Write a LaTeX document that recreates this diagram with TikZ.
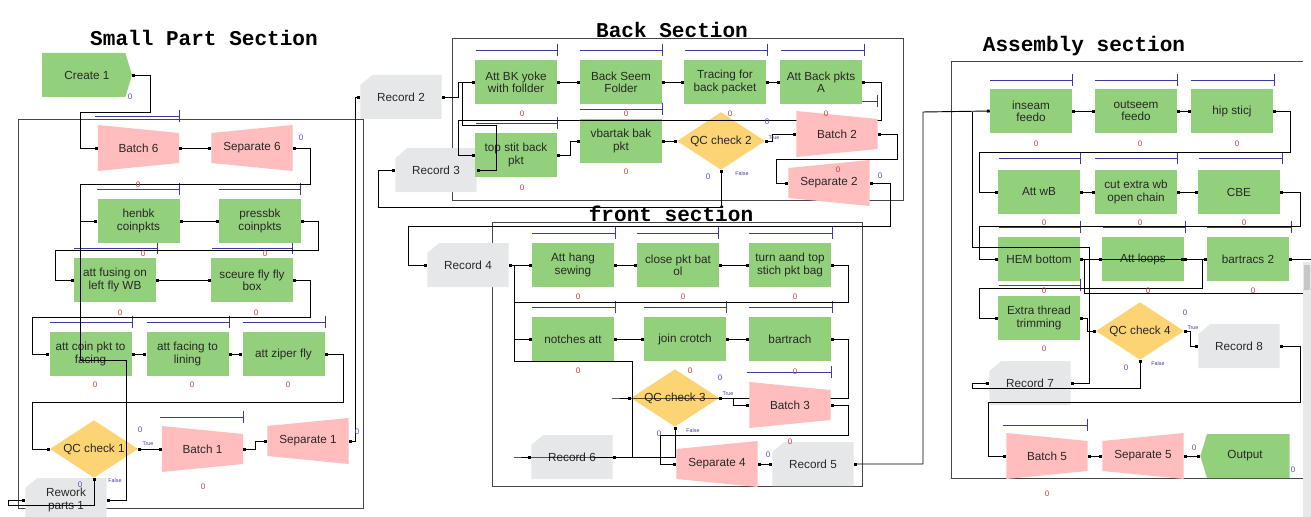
\documentclass[tikz,border=0pt]{standalone}
\usepackage{fontspec}
\setmainfont{Liberation Sans}
\newfontfamily\ttlfont{Liberation Mono}
\usetikzlibrary{arrows.meta}

\definecolor{procgreen}{RGB}{147,208,123}
\definecolor{batchpink}{RGB}{255,189,189}
\definecolor{qcgold}{RGB}{252,212,115}
\definecolor{recgray}{RGB}{230,231,232}
\definecolor{qblue}{RGB}{58,58,160}
\definecolor{zred}{RGB}{205,60,60}
\definecolor{zblue}{RGB}{80,80,205}
\definecolor{boxtext}{RGB}{40,40,40}
\definecolor{framegray}{RGB}{70,70,70}
\definecolor{scrollgray}{RGB}{232,232,232}

\newcommand\boxfont{\fontsize{8.8}{9.2}\selectfont}
\newcommand\zfont{\fontsize{6}{6}\selectfont}
\newcommand\tffont{\fontsize{4}{4}\selectfont}

\begin{document}
\begin{tikzpicture}[x=0.75pt,y=-0.75pt,
  proc/.style={rectangle,fill=procgreen,minimum width=61.5pt,minimum height=33.5pt,
    inner sep=0pt,align=center,font=\boxfont,text=boxtext},
  batch/.style={rectangle,minimum width=61pt,minimum height=34.5pt,inner sep=0pt,
    align=center,font=\boxfont,text=boxtext,
    path picture={\fill[batchpink] (path picture bounding box.north west)
      -- ([yshift=-6pt]path picture bounding box.north east)
      -- ([yshift=6pt]path picture bounding box.south east)
      -- (path picture bounding box.south west) -- cycle;}},
  sep/.style={rectangle,minimum width=61pt,minimum height=34.5pt,inner sep=0pt,
    align=center,font=\boxfont,text=boxtext,
    path picture={\fill[batchpink] ([yshift=-6pt]path picture bounding box.north west)
      -- (path picture bounding box.north east)
      -- (path picture bounding box.south east)
      -- ([yshift=6pt]path picture bounding box.south west) -- cycle;}},
  record/.style={rectangle,minimum width=61pt,minimum height=33pt,inner sep=0pt,
    align=center,font=\boxfont,text=boxtext,
    path picture={\fill[recgray] ([yshift=-7.5pt]path picture bounding box.north west)
      -- ([xshift=9pt]path picture bounding box.north west)
      -- (path picture bounding box.north east)
      -- (path picture bounding box.south east)
      -- (path picture bounding box.south west) -- cycle;}},
  create/.style={rectangle,minimum width=67.5pt,minimum height=33pt,inner sep=0pt,
    align=center,font=\boxfont,text=boxtext,
    path picture={\fill[procgreen] (path picture bounding box.north west)
      -- ([xshift=-5pt]path picture bounding box.north east)
      -- (path picture bounding box.east)
      -- ([xshift=-5pt]path picture bounding box.south east)
      -- (path picture bounding box.south west) -- cycle;}},
  dispose/.style={rectangle,minimum width=67pt,minimum height=33pt,inner sep=0pt,
    align=center,font=\boxfont,text=boxtext,
    path picture={\fill[procgreen] ([xshift=5pt]path picture bounding box.north west)
      -- (path picture bounding box.north east)
      -- (path picture bounding box.south east)
      -- ([xshift=5pt]path picture bounding box.south west)
      -- (path picture bounding box.west) -- cycle;}},
  decide/.style={rectangle,minimum width=66pt,minimum height=43pt,inner sep=0pt,
    align=center,font=\boxfont,text=boxtext,
    path picture={\fill[qcgold] (path picture bounding box.north)
      -- (path picture bounding box.east)
      -- (path picture bounding box.south)
      -- (path picture bounding box.west) -- cycle;}},
  conn/.style={draw=black,line width=0.7pt,
    {Square[length=2.2pt,width=2.2pt]}-{Square[length=2.2pt,width=2.2pt]}},
  merge/.style={draw=black,line width=0.7pt,{Square[length=2.2pt,width=2.2pt]}-},
  queue/.style={draw=qblue,line width=0.7pt,-{Bar[width=9.5pt,line width=0.7pt]}},
  frame/.style={draw=framegray,line width=0.7pt},
  ttl/.style={inner sep=0pt,font={\ttlfont\bfseries\fontsize{15.8}{16}\selectfont}},
  zr/.style={inner sep=0pt,text=zred,font=\zfont},
  zb/.style={inner sep=0pt,text=zblue,font=\zfont},
  tf/.style={inner sep=0pt,text=zblue!70!black,font=\tffont}]
\useasboundingbox (0,0) rectangle (1311,517);

% frames of the four sections
\draw[frame] (18,119) rectangle (363,508);
\draw[frame] (452,38) rectangle (903,200);
\draw[frame] (492,222) rectangle (862,486);
\draw[frame] (1303,61) -- (951,61) -- (951,478) -- (1303,478);

% titles
\node[ttl] (tsmall) at (204,38) {Small Part Section};
\node[ttl] (tback) at (672,30) {Back Section};
\node[ttl] (tfront) at (671,214) {front section};
\node[ttl] (tassy) at (1084,46) {Assembly section};

% queues
\foreach \xa/\xb/\yq in {95/180/116, 97/180/189, 219/301/189, 74/158/248, 212/293/248,
    50/133/322, 147/230/322, 243/326/322, 160/244/417,
    476/558/50, 580/663/50, 685/768/50, 781/865/50, 794/878/101, 580/663/109, 476/558/123,
    532/616/233, 637/719/233, 749/833/233, 532/616/307, 644/727/307, 749/833/307, 747/832/372,
    990/1073/80, 1095/1178/80, 1191/1275/80, 999/1081/158, 1095/1178/158, 1199/1283/158,
    999/1081/227, 1103/1186/227, 1207/1292/227, 999/1081/285, 1003/1088/425}
  \draw[queue] (\xa,\yq) -- (\xb,\yq);

% small part section
\node[create] (cr1) at (87,75) {Create 1};
\node[batch] (b6) at (138.5,148) {Batch 6};
\node[sep] (s6) at (252,148) {Separate 6};
\node[proc] (hb) at (138.5,221) {henbk\\coinpkts};
\node[proc] (pb) at (260,221) {pressbk\\coinpkts};
\node[proc] (fus) at (115,280) {att fusing on\\left fly WB};
\node[proc] (sfb) at (252,280) {sceure fly fly\\box};
\node[proc] (cpk) at (90.5,354) {att coin pkt to\\facing};
\node[proc] (fcl) at (187.5,354) {att facing to\\lining};
\node[proc] (zip) at (283.5,354) {att ziper fly};
\node[decide] (qc1) at (94,449) {QC check 1};
\node[batch] (b1) at (202.5,449) {Batch 1};
\node[sep] (s1) at (308,441) {Separate 1};
\node[record] (rw1) at (66,500) {Rework\\parts 1};

% back section
\node[record] (r2) at (401,97) {Record 2};
\node[proc] (bk1) at (516,82) {Att BK yoke\\with follder};
\node[proc] (bk2) at (621,82) {Back Seem\\Folder};
\node[proc] (bk3) at (725,82) {Tracing for\\back packet};
\node[proc] (bk4) at (821,82) {Att Back pkts\\A};
\node[record] (r3) at (436,170) {Record 3};
\node[proc] (ts) at (516,155) {top stit back\\pkt};
\node[proc] (vb) at (621,141) {vbartak bak\\pkt};
\node[decide] (qc2) at (721,141) {QC check 2};
\node[sep] (s2) at (829,183) {Separate 2};

% front section
\node[record] (r4) at (468,265) {Record 4};
\node[proc] (fh) at (573,265) {Att hang\\sewing};
\node[proc] (fc) at (678,265) {close pkt bat\\ol};
\node[proc] (ft) at (790,265) {turn aand top\\stich pkt bag};
\node[proc] (fn) at (573,339) {notches att};
\node[proc] (fj) at (685,339) {join crotch};
\node[proc] (fb) at (790,339) {bartrach};
\node[decide] (qc3) at (675,398) {QC check 3};
\node[record] (r6) at (572,457) {Record 6};
\node[sep] (s4) at (717,464) {Separate 4};
\node[record] (r5) at (813,464) {Record 5};

% assembly section
\node[proc] (a1) at (1031,111) {inseam\\feedo};
\node[proc] (a2) at (1136,111) {outseem\\feedo};
\node[proc] (a3) at (1232,111) {hip sticj};
\node[proc] (a4) at (1039,192) {Att wB};
\node[proc] (a5) at (1136,192) {cut extra wb\\open chain};
\node[proc] (a6) at (1239,192) {CBE};
\node[proc] (a7) at (1039,259) {HEM bottom};
\node[proc] (a8) at (1143,259) {Att loops};
\node[proc] (a9) at (1248,259) {bartracs 2};
\node[proc] (a10) at (1039,318) {Extra thread\\trimming};
\node[decide] (qc4) at (1140,331) {QC check 4};
\node[record] (r8) at (1239,346) {Record 8};
\node[record] (r7) at (1030,383) {Record 7};
\node[batch] (b5) at (1047,456) {Batch 5};
\node[sep] (s5) at (1143,456) {Separate 5};
\node[dispose] (out) at (1245,456) {Output};

% connectors that run under a batch
\draw[conn] (bk4.east) -| (881,120) -| (458,155) -- (ts.west);
\draw[conn] (fb.east) -| (848,398) -- (612,398) -- (qc3.west);
\node[batch] (b2) at (837,134) {Batch 2};
\node[batch] (b3) at (790,405) {Batch 3};

% small part connectors
\draw[conn] (cr1.east) -| (150,112) -| (80,148) -- (b6.west);
\draw[conn] (b6.east) -- (s6.west);
\draw[conn] (s6.east) -| (310,184) -| (80,221) -- (hb.west);
\draw[conn] (hb.east) -- (pb.west);
\draw[conn] (pb.east) -| (318,250) -| (55,280) -- (fus.west);
\draw[conn] (fus.east) -- (sfb.west);
\draw[conn] (sfb.east) -| (310,317) -| (32,354) -- (cpk.west);
\draw[conn] (cpk.east) -- (fcl.west);
\draw[conn] (fcl.east) -- (zip.west);
\draw[conn] (zip.east) -| (343,402) -| (32,449) -- (qc1.west);
\draw[conn] (qc1.east) -- (b1.west);
\draw[conn] (b1.east) -- (255,449) |- (s1.west);
\draw[conn] (s1.east) -| (355,97) -- (r2.west);
\draw[conn] (qc1.south) |- (8,505) |- (rw1.west);
\draw[merge] (rw1.east) -| (126,360) -| (80,221);

% back connectors
\draw[conn] (r2.east) -- (458,97) |- (bk1.west);
\draw[conn] (bk1.east) -- (bk2.west);
\draw[conn] (bk2.east) -- (bk3.west);
\draw[conn] (bk3.east) -- (bk4.west);
\draw[conn] (ts.east) -- (570,155) |- (vb.west);
\draw[conn] (vb.east) -- (qc2.west);
\draw[conn] (qc2.east) -- (772,141) |- (b2.west);
\draw[conn] (b2.east) -| (897,159) -| (776,183) -- (s2.west);
\draw[conn] (s2.east) -| (890,226) -| (408,265) -- (r4.west);
\draw[conn] (qc2.south) |- (378,207) |- (r3.west);
\draw[merge] (r3.east) -- (496,170) |- (462,125) |- (bk1.west);

% front connectors
\draw[conn] (r4.east) -- (fh.west);
\draw[conn] (fh.east) -- (fc.west);
\draw[conn] (fc.east) -- (ft.west);
\draw[conn] (ft.east) -| (848,302) -| (514,339) -- (fn.west);
\draw[conn] (fn.east) -- (fj.west);
\draw[conn] (fj.east) -- (fb.west);
\draw[conn] (qc3.east) -- (733,398) |- (b3.west);
\draw[conn] (b3.east) -| (848,435) -| (660,464) -- (s4.west);
\draw[conn] (s4.east) -- (r5.west);
\draw[conn] (r5.east) -| (923,112) -- (a1.west);
\draw[conn] (qc3.south) |- (514,457) -- (r6.west);
\draw[merge] (r6.east) -| (632,361) -| (514,265);

% assembly connectors
\draw[conn] (a1.east) -- (a2.west);
\draw[conn] (a2.east) -- (a3.west);
\draw[conn] (a3.east) -| (1290,152) -| (979,192) -- (a4.west);
\draw[conn] (a4.east) -- (a5.west);
\draw[conn] (a5.east) -- (a6.west);
\draw[conn] (a6.east) -| (1300,226) -| (979,259) -- (a7.west);
\draw[conn] (a7.east) -- (a8.west);
\draw[conn] (a8.east) -- (a9.west);
\draw[conn] (a9.east) -| (1316,293) -| (1084,259) -- (a8.east);
\draw[conn] (a8.east) -| (1202,288) -| (979,318) -- (a10.west);
\draw[conn] (a10.east) -- (1087,318) |- (qc4.west);
\draw[conn] (qc4.east) -- (1190,331) |- (r8.west);
\draw[conn] (r8.east) -| (1300,402) -| (988,456) -- (b5.west);
\draw[conn] (b5.east) -- (s5.west);
\draw[conn] (s5.east) -- (out.west);
\draw[conn] (qc4.south) |- (972,388) |- (r7.west);
\draw[merge] (r7.east) -- (1089,383) |- (972,247) -- (972,112);

% scroll bar at the right edge
\fill[scrollgray] (1303,262) rectangle (1311,517);
\fill[black!22] (1304,265) rectangle (1310,290);

% decision labels
\node[tf] (tr1) at (148,444) {True};
\node[tf] (fa1) at (115,481) {False};
\node[tf] (tr2) at (774,138) {True};
\node[tf] (fa2) at (742,174) {False};
\node[tf] (tr3) at (728,394) {True};
\node[tf] (fa3) at (693,431) {False};
\node[tf] (tr4) at (1193,328) {True};
\node[tf] (fa4) at (1158,364) {False};

% counters
\foreach \xz/\yz [count=\i] in {138/185, 143/254, 265/254, 120/313, 256/313, 95/385, 192/385,
    288/385, 203/487, 522/114, 626/114, 730/114, 826/114, 522/188, 626/172, 838/170,
    578/297, 683/297, 795/297, 578/371, 690/371, 795/372, 790/442,
    1036/144, 1140/144, 1237/144, 1044/223, 1140/223, 1244/223, 1044/291, 1148/291,
    1253/291, 1044/349, 1047/494}
  \node[zr] (cr\i) at (\xz,\yz) {0};
\foreach \xz/\yz [count=\i] in {130/97, 301/138, 140/430, 80/485, 357/432, 767/122, 708/177,
    880/176, 720/378, 659/434, 768/455, 1185/313, 1126/368, 1194/448, 1293/470}
  \node[zb] (cb\i) at (\xz,\yz) {0};
\end{tikzpicture}
\end{document}
